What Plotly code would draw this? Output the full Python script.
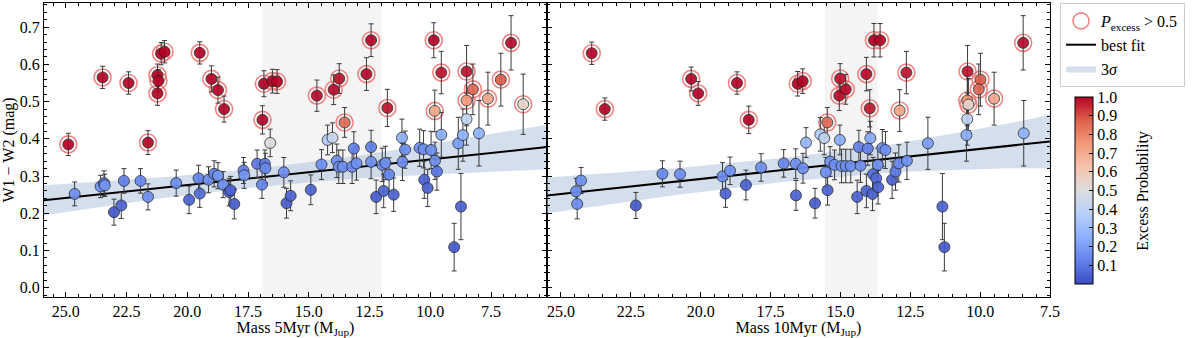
import plotly.graph_objects as go
from plotly.subplots import make_subplots

# ---- datos panel 5 Myr ----
mass_5myr = [24.9, 23.49, 22.42, 21.23, 21.19, 21.23, 21.08, 20.94, 21.62, 19.49, 19.01, 18.74, 18.49,
             16.91, 16.85, 16.50, 16.31, 14.67, 13.98, 13.75, 13.53, 12.63, 12.44, 11.77, 9.86, 9.55,
             9.82, 8.51, 8.25, 8.51, 7.63, 7.10, 6.68, 6.18,
             16.59, 14.23, 14.03,
             24.64, 23.57, 23.43, 23.40, 23.02, 22.72, 22.61, 21.93, 21.62, 20.46, 19.93, 19.54, 19.49,
             19.13, 18.90, 18.74, 18.53, 18.28, 18.22, 18.07, 17.69, 17.66, 17.13, 16.93, 16.81, 16.79,
             16.03, 15.92, 15.75, 14.92, 14.48, 13.85, 13.77, 13.60, 13.22, 13.15, 13.04, 12.44, 12.44,
             12.23, 11.98, 11.85, 11.92, 11.70, 11.51, 11.17, 11.04, 11.15, 10.44, 10.28, 9.97, 10.25,
             10.11, 9.81, 9.73, 9.55, 9.02, 8.74, 8.85, 8.66, 8.51, 8.00]
w12_5myr = [0.385, 0.565, 0.550, 0.571, 0.556, 0.522, 0.629, 0.634, 0.390, 0.631, 0.561, 0.531, 0.480,
            0.451, 0.548, 0.555, 0.554, 0.516, 0.532, 0.562, 0.444, 0.574, 0.665, 0.483, 0.665, 0.578,
            0.475, 0.581, 0.533, 0.503, 0.508, 0.559, 0.658, 0.493,
            0.389, 0.397, 0.403,
            0.252, 0.272, 0.281, 0.275, 0.203, 0.221, 0.287, 0.287, 0.244, 0.281, 0.236, 0.294, 0.253,
            0.290, 0.306, 0.301, 0.277, 0.257, 0.262, 0.225, 0.315, 0.302, 0.333, 0.277, 0.333, 0.321,
            0.310, 0.227, 0.247, 0.263, 0.331, 0.341, 0.325, 0.325, 0.325, 0.374, 0.334, 0.378, 0.338,
            0.244, 0.330, 0.335, 0.260, 0.304, 0.250, 0.403, 0.371, 0.338, 0.376, 0.372, 0.370, 0.290,
            0.268, 0.341, 0.312, 0.411, 0.109, 0.218, 0.388, 0.410, 0.453, 0.415]
err_5myr = [0.03, 0.03, 0.03, 0.03, 0.03, 0.032, 0.03, 0.03, 0.032, 0.03, 0.035, 0.035, 0.035,
            0.038, 0.035, 0.032, 0.032, 0.042, 0.04, 0.04, 0.04, 0.044, 0.044, 0.05, 0.047, 0.057,
            0.056, 0.07, 0.068, 0.068, 0.071, 0.071, 0.073, 0.081,
            0.037, 0.04, 0.04,
            0.032, 0.03, 0.033, 0.03, 0.035, 0.035, 0.033, 0.033, 0.035, 0.035, 0.037, 0.035, 0.037,
            0.035, 0.035, 0.035, 0.035, 0.037, 0.037, 0.04, 0.035, 0.035, 0.037, 0.037, 0.037, 0.04,
            0.04, 0.04, 0.04, 0.04, 0.04, 0.045, 0.045, 0.045, 0.045, 0.045, 0.045, 0.045, 0.045,
            0.045, 0.045, 0.045, 0.045, 0.045, 0.045, 0.05, 0.05, 0.05, 0.05, 0.05, 0.05, 0.05,
            0.05, 0.05, 0.05, 0.06, 0.064, 0.089, 0.07, 0.07, 0.07, 0.088]
prob_5myr = [1.0, 1.0, 1.0, 1.0, 1.0, 1.0, 1.0, 1.0, 1.0, 1.0, 1.0, 1.0, 1.0,
             1.0, 1.0, 1.0, 1.0, 0.99, 0.99, 0.98, 0.85, 0.99, 1.0, 0.98, 1.0, 0.98,
             0.72, 0.98, 0.86, 0.75, 0.72, 0.88, 0.99, 0.55,
             0.50, 0.35, 0.43,
             0.16, 0.16, 0.1, 0.18, 0.03, 0.05, 0.12, 0.14, 0.16, 0.16, 0.05, 0.13, 0.07,
             0.16, 0.12, 0.18, 0.16, 0.05, 0.05, 0.04, 0.12, 0.18, 0.1, 0.13, 0.1, 0.14,
             0.16, 0.04, 0.05, 0.05, 0.16, 0.16, 0.16, 0.16, 0.16, 0.12, 0.16, 0.12, 0.16,
             0.04, 0.16, 0.16, 0.05, 0.13, 0.05, 0.26, 0.16, 0.16, 0.16, 0.16, 0.16, 0.05,
             0.05, 0.16, 0.1, 0.24, 0.03, 0.05, 0.2, 0.26, 0.4, 0.26]

# ---- datos panel 10 Myr ----
mass_10myr = [23.90, 23.43, 20.34, 20.09, 18.70, 18.28, 16.53, 16.35, 15.47, 15.04, 15.01, 14.81, 14.07,
              13.95, 13.80, 13.58, 12.64, 12.88, 10.45, 10.46, 10.42, 9.99, 10.05, 9.50, 8.46,
              24.46, 24.28, 24.42, 22.32, 21.37, 20.74, 19.22, 18.95, 19.11, 18.38, 17.84, 17.03, 16.60,
              16.59, 16.34, 16.23, 15.91, 15.72, 15.58, 15.52, 15.46, 15.37, 15.21, 15.02, 14.96, 14.81,
              14.63, 14.40, 14.34, 14.28, 14.07, 14.02, 13.93, 13.83, 13.85, 13.72, 13.65, 13.66, 13.50,
              13.39, 13.15, 13.03, 12.91, 12.62, 11.87, 11.35, 11.28, 10.49, 10.46, 8.44]
w12_10myr = [0.630, 0.480, 0.561, 0.522, 0.550, 0.451, 0.548, 0.555, 0.444, 0.516, 0.562, 0.533, 0.574,
             0.482, 0.665, 0.665, 0.578, 0.476, 0.581, 0.503, 0.492, 0.559, 0.533, 0.508, 0.658,
             0.259, 0.288, 0.225, 0.221, 0.306, 0.305, 0.299, 0.314, 0.253, 0.276, 0.323, 0.334, 0.333,
             0.248, 0.321, 0.390, 0.227, 0.412, 0.402, 0.310, 0.262, 0.339, 0.330, 0.397, 0.327, 0.327,
             0.327, 0.244, 0.378, 0.328, 0.260, 0.374, 0.402, 0.305, 0.252, 0.294, 0.270, 0.330, 0.375,
             0.370, 0.290, 0.312, 0.334, 0.341, 0.388, 0.218, 0.109, 0.410, 0.453, 0.415]
err_10myr = [0.03, 0.03, 0.032, 0.032, 0.03, 0.037, 0.033, 0.033, 0.04, 0.04, 0.04, 0.04, 0.045,
             0.05, 0.045, 0.045, 0.057, 0.056, 0.07, 0.068, 0.07, 0.071, 0.068, 0.071, 0.073,
             0.035, 0.035, 0.04, 0.035, 0.035, 0.035, 0.037, 0.037, 0.037, 0.04, 0.037, 0.037, 0.04,
             0.04, 0.04, 0.04, 0.04, 0.045, 0.045, 0.04, 0.04, 0.04, 0.04, 0.04, 0.045, 0.045,
             0.045, 0.045, 0.045, 0.045, 0.045, 0.045, 0.045, 0.045, 0.045, 0.045, 0.045, 0.045, 0.05,
             0.05, 0.05, 0.05, 0.05, 0.05, 0.07, 0.089, 0.064, 0.07, 0.07, 0.088]
prob_10myr = [1.0, 1.0, 1.0, 1.0, 1.0, 1.0, 1.0, 1.0, 0.85, 0.99, 0.98, 0.99, 0.99,
              0.97, 1.0, 1.0, 0.98, 0.72, 0.98, 0.75, 0.55, 0.88, 0.86, 0.72, 0.99,
              0.16, 0.16, 0.16, 0.03, 0.14, 0.16, 0.16, 0.16, 0.05, 0.05, 0.16, 0.14, 0.16,
              0.05, 0.16, 0.27, 0.04, 0.35, 0.4, 0.16, 0.05, 0.16, 0.16, 0.24, 0.16, 0.16,
              0.16, 0.05, 0.12, 0.16, 0.05, 0.12, 0.24, 0.08, 0.05, 0.07, 0.05, 0.16, 0.16,
              0.16, 0.05, 0.1, 0.14, 0.16, 0.2, 0.05, 0.03, 0.24, 0.4, 0.26]

# ajuste y banda 3 sigma
fit_mass_5myr = [25.9, 21.0, 17.0, 13.0, 9.0, 5.2]
fit_line_5myr = [0.235, 0.269, 0.296, 0.324, 0.352, 0.378]
fit_low_5myr = [0.195, 0.241, 0.271, 0.294, 0.307, 0.318]
fit_high_5myr = [0.275, 0.297, 0.321, 0.354, 0.397, 0.438]

fit_mass_10myr = [25.5, 21.0, 17.0, 13.0, 9.0, 7.5]
fit_line_10myr = [0.248, 0.284, 0.317, 0.349, 0.381, 0.393]
fit_low_10myr = [0.200, 0.248, 0.285, 0.311, 0.321, 0.321]
fit_high_10myr = [0.296, 0.320, 0.349, 0.387, 0.441, 0.465]

# zonas grises
gray_5myr = [16.9, 12.0]
gray_10myr = [15.55, 13.67]

cbar_ticks = [0.1, 0.2, 0.3, 0.4, 0.5, 0.6, 0.7, 0.8, 0.9, 1.0]

coolwarm = [[0.0, 'rgb(59,76,192)'], [0.125, 'rgb(98,130,234)'], [0.25, 'rgb(141,176,254)'],
            [0.375, 'rgb(184,208,249)'], [0.5, 'rgb(221,221,221)'], [0.625, 'rgb(245,196,172)'],
            [0.75, 'rgb(244,154,123)'], [0.875, 'rgb(222,96,77)'], [1.0, 'rgb(180,4,38)']]

FONT = 'Liberation Serif'
FS = 16
RING = 'rgba(240,110,110,0.85)'
BAND = 'rgba(176,196,222,0.55)'

fig = make_subplots(rows=1, cols=2, shared_yaxes=True, horizontal_spacing=0)

paneles = [
    (1, mass_5myr, w12_5myr, err_5myr, prob_5myr, fit_mass_5myr, fit_line_5myr, fit_low_5myr, fit_high_5myr, gray_5myr),
    (2, mass_10myr, w12_10myr, err_10myr, prob_10myr, fit_mass_10myr, fit_line_10myr, fit_low_10myr, fit_high_10myr, gray_10myr),
]

for col, m, w, e, p, fm, fl, flo, fhi, gr in paneles:
    first = col == 1
    xref = 'x' if first else 'x2'
    fig.add_shape(type='rect', xref=xref, yref='paper', x0=gr[0], x1=gr[1], y0=0, y1=1,
                  fillcolor='#f4f4f4', line_width=0, layer='below')

    # banda 3 sigma
    fig.add_trace(go.Scatter(x=fm, y=flo, mode='lines', line=dict(width=0), hoverinfo='skip',
                             showlegend=False), row=1, col=col)
    fig.add_trace(go.Scatter(x=fm, y=fhi, mode='lines', line=dict(width=0), fill='tonexty',
                             fillcolor=BAND, name='3<i>σ</i>', legendrank=3, showlegend=first),
                  row=1, col=col)
    # mejor ajuste
    fig.add_trace(go.Scatter(x=fm, y=fl, mode='lines', line=dict(color='black', width=2),
                             name='best fit', legendrank=2, showlegend=first), row=1, col=col)

    # anillos P > 0.5
    mr = [mi for mi, pi in zip(m, p) if pi > 0.5]
    wr = [wi for wi, pi in zip(w, p) if pi > 0.5]
    fig.add_trace(go.Scatter(x=mr, y=wr, mode='markers',
                             marker=dict(symbol='circle-open', size=17, color=RING, line=dict(width=1.6)),
                             name='<i>P</i><sub>excess</sub> > 0.5', legendrank=1, showlegend=first),
                  row=1, col=col)

    # puntos
    fig.add_trace(go.Scatter(
        x=m, y=w, mode='markers', showlegend=False,
        error_y=dict(type='data', array=e, color='#3a3a3a', thickness=1, width=2.5),
        marker=dict(size=11, color=p, colorscale=coolwarm, cmin=0, cmax=1, opacity=0.92,
                    line=dict(color='#222', width=0.8),
                    showscale=first,
                    colorbar=dict(x=1.015, xanchor='left', y=0.01, yanchor='bottom', len=0.703,
                                  thickness=18, outlinecolor='black', outlinewidth=1,
                                  tickvals=cbar_ticks, ticktext=[f'{t:.1f}' for t in cbar_ticks],
                                  ticks='inside', ticklen=4, tickcolor='black',
                                  tickfont=dict(family=FONT, size=FS, color='black')))),
        row=1, col=col)

axis_common = dict(showline=True, linecolor='black', linewidth=1, mirror='ticks', ticks='inside',
                   ticklen=5, tickcolor='black', showgrid=False, zeroline=False,
                   tickfont=dict(family=FONT, size=FS, color='black'))

fig.update_xaxes(**axis_common, dtick=2.5, tickformat='.1f',
                 minor=dict(ticks='inside', ticklen=3, dtick=0.5, tickcolor='black'))
fig.update_yaxes(**axis_common, dtick=0.1, tickformat='.1f', range=[-0.025, 0.765],
                 minor=dict(ticks='inside', ticklen=3, dtick=0.02, tickcolor='black'))

fig.update_xaxes(range=[25.9, 5.2], domain=[0, 0.5], row=1, col=1,
                 title=dict(text='Mass 5Myr (M<sub>Jup</sub>)', font=dict(family=FONT, size=FS, color='black'),
                            standoff=5))
fig.update_xaxes(range=[25.5, 7.5], domain=[0.5, 1.0], row=1, col=2,
                 title=dict(text='Mass 10Myr (M<sub>Jup</sub>)', font=dict(family=FONT, size=FS, color='black'),
                            standoff=5))
fig.update_yaxes(title=dict(text='W1 − W2 (mag)', font=dict(family=FONT, size=FS, color='black'), standoff=4),
                 row=1, col=1)

# titulo de la barra de color
fig.add_annotation(text='Excess Probability', xref='paper', yref='paper', x=1.093, y=0.36,
                   xanchor='center', yanchor='middle', textangle=-90, showarrow=False,
                   font=dict(family=FONT, size=FS, color='black'))

fig.update_layout(
    width=1200, height=338,
    margin=dict(l=44, r=150, t=2, b=40),
    plot_bgcolor='white', paper_bgcolor='white',
    legend=dict(x=1.01, y=1.0, xanchor='left', yanchor='top', bgcolor='white', traceorder='normal',
                bordercolor='#cccccc', borderwidth=1, font=dict(family=FONT, size=FS, color='black'),
                tracegroupgap=0, itemwidth=30),
)

fig.write_html("out.html", config={'displayModeBar': False},
               post_script="document.body.style.margin='0px';")
